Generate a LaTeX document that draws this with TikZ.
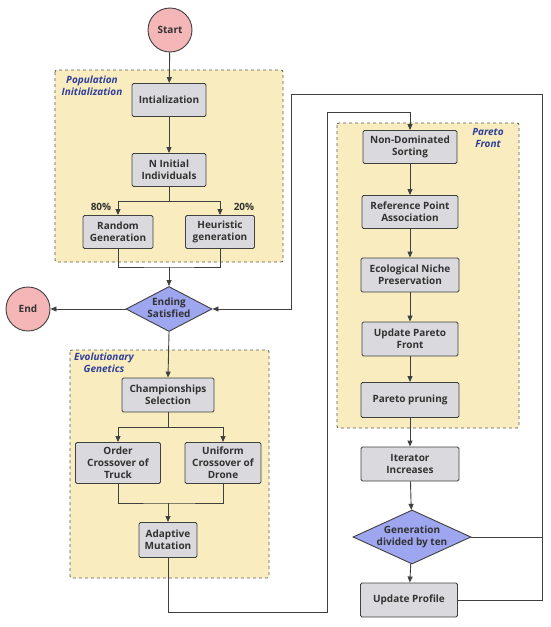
\documentclass[tikz,border=0pt]{standalone}
\usepackage{fontspec}
\setmainfont{Open Sans}
\usetikzlibrary{arrows.meta,shapes.geometric}
\definecolor{boxfill}{RGB}{218,218,222}
\definecolor{edgecol}{RGB}{64,64,64}
\definecolor{areafill}{RGB}{249,237,192}
\definecolor{areaedge}{RGB}{90,90,90}
\definecolor{circfill}{RGB}{244,182,182}
\definecolor{diafill}{RGB}{158,166,240}
\definecolor{lblue}{RGB}{47,63,153}
\definecolor{txt}{RGB}{50,50,50}
\newcommand{\dtext}[2]{\makebox[0pt]{\begin{tabular}{@{}c@{}}#1\\#2\end{tabular}}}
\begin{document}
\begin{tikzpicture}[x=1pt,y=-1pt,
  font=\fontsize{10}{12}\selectfont\bfseries,
  every node/.append style={text=txt},
  procbox/.style={draw=edgecol,line width=0.9pt,fill=boxfill,rounded corners=1.5pt,align=center,inner sep=0pt},
  area/.style={draw=areaedge,line width=0.8pt,dashed,fill=areafill,rounded corners=2pt},
  arealbl/.style={text=lblue,font=\fontsize{10}{12}\selectfont\bfseries\itshape,align=center,inner sep=0pt},
  term/.style={circle,draw=edgecol,line width=0.9pt,fill=circfill,minimum size=44pt,inner sep=0pt},
  dia/.style={diamond,draw=edgecol,line width=0.9pt,fill=diafill,inner sep=0pt},
  conn/.style={draw=edgecol,line width=0.9pt},
  arr/.style={conn,-{Triangle[length=6pt,width=5pt]}}
]
\useasboundingbox (0,0) rectangle (550,627);
\fill[white] (0,0) rectangle (550,627);

% containers
\draw[area] (55,70) rectangle (283,262);
\node[arealbl] (lblpop) at (92,86) {Population\\Initialization};
\draw[area] (70,350) rectangle (269,578);
\node[arealbl] (lblevo) at (104,363) {Evolutionary\\Genetics};
\draw[area] (337,123) rectangle (519,428);
\node[arealbl] (lblpar) at (488,138) {Pareto\\Front};

% terminals
\node[term] (start) at (170,30) {Start};
\node[term] (end) at (28,309) {End};

% population init
\node[procbox,minimum width=74pt,minimum height=33pt] (init) at (169,100) {Intialization};
\node[procbox,minimum width=74pt,minimum height=33pt] (nii) at (169,170) {N Initial\\Individuals};
\node[procbox,minimum width=70pt,minimum height=33pt] (rg) at (118,232) {Random\\Generation};
\node[procbox,minimum width=69pt,minimum height=33pt] (hg) at (220,232) {Heuristic\\generation};

% decision
\node[dia,minimum width=86pt,minimum height=45pt] (es) at (169,309) {\dtext{Ending}{Satisfied}};

% evolutionary genetics
\node[procbox,minimum width=92pt,minimum height=34pt] (cs) at (168,395) {Championships\\Selection};
\node[procbox,minimum width=85pt,minimum height=41pt] (oc) at (118,463) {Order\\Crossover of\\Truck};
\node[procbox,minimum width=76pt,minimum height=41pt] (uc) at (223,463) {Uniform\\Crossover of\\Drone};
\node[procbox,minimum width=58pt,minimum height=35pt] (am) at (168,540) {Adaptive\\Mutation};

% pareto front
\node[procbox,minimum width=94pt,minimum height=33pt] (nds) at (410,147) {Non-Dominated\\Sorting};
\node[procbox,minimum width=96pt,minimum height=33pt] (rpa) at (410,212) {Reference Point\\Association};
\node[procbox,minimum width=98pt,minimum height=34pt] (enp) at (410,275) {Ecological Niche\\Preservation};
\node[procbox,minimum width=96pt,minimum height=34pt] (upf) at (410,339) {Update Pareto\\Front};
\node[procbox,minimum width=98pt,minimum height=35pt] (pp) at (410,400) {Pareto pruning};
\node[procbox,minimum width=98pt,minimum height=34pt] (ii) at (410,464) {Iterator\\Increases};
\node[dia,minimum width=118pt,minimum height=54pt] (gd) at (412,537) {\dtext{Generation}{divided by ten}};
\node[procbox,minimum width=97pt,minimum height=34pt] (up) at (409,600) {Update Profile};

% helper coordinates
\coordinate (m1) at (169,267);
\coordinate (m2) at (168,503);
\coordinate (c1) at (327,612);
\coordinate (c2) at (327,112);
\coordinate (c3) at (542,94);
\coordinate (c4) at (291,94);

% percentage labels
\node[inner sep=0pt] (p80) at (101,207) {80\%};
\node[inner sep=0pt] (p20) at (244,207) {20\%};

% connectors
\draw[arr] (start) -- (init);
\draw[arr] (init) -- (nii);
\draw[arr] (nii.south) -- ++(0,14) -| (rg.north);
\draw[arr] (nii.south) -- ++(0,14) -| (hg.north);
\draw[conn] (rg.south) |- (m1) -| (hg.south);
\draw[arr] (m1) -- (es.north);
\draw[arr] (es.west) -- (end.east);
\draw[arr] (es.south) -- (cs.north);
\draw[arr] (cs.south) -- ++(0,15) -| (oc.north);
\draw[arr] (cs.south) -- ++(0,15) -| (uc.north);
\draw[conn] (oc.south) |- (m2) -| (uc.south);
\draw[arr] (m2) -- (am.north);
\draw[arr] (am.south) |- (c1) -- (c2) -| (nds.north);
\draw[arr] (nds) -- (rpa);
\draw[arr] (rpa) -- (enp);
\draw[arr] (enp) -- (upf);
\draw[arr] (upf) -- (pp);
\draw[arr] (pp) -- (ii);
\draw[arr] (ii) -- (gd);
\draw[arr] (gd) -- (up);
\draw[arr] (up.east) -| (c3) -- (c4) |- (es.east);
\draw[conn] (gd.east) -- (gd.east -| c3);
\end{tikzpicture}
\end{document}
